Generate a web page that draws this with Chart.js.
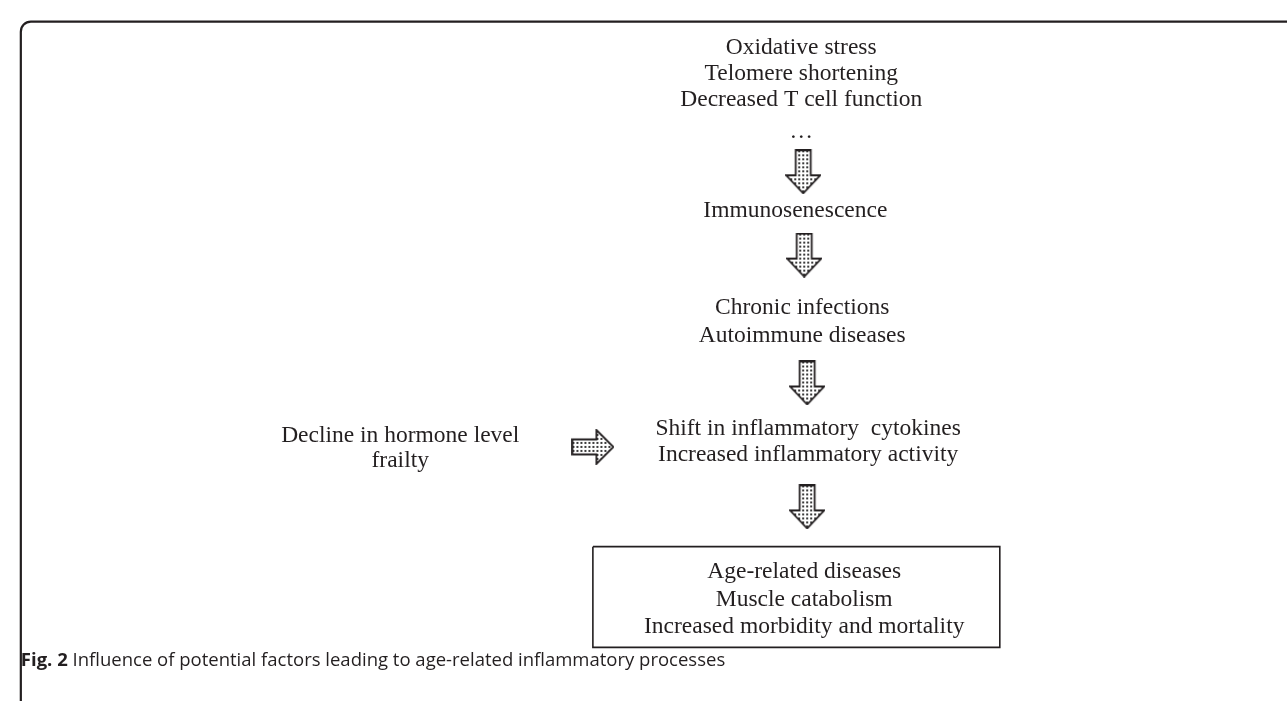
<!DOCTYPE html>
<html>
<head>
<meta charset="utf-8">
<script src="https://cdn.jsdelivr.net/npm/chart.js@4"></script>
<style>
  html, body { margin: 0; padding: 0; background: #fff; }
  #wrap { width: 1287px; height: 701px; position: relative; }
</style>
</head>
<body>
<div id="wrap"><canvas id="flowChart"></canvas></div>
<script>
// Text of each step of the flow, top to bottom
const causes = ['Oxidative stress', 'Telomere shortening', 'Decreased T cell function', '\u2026'];
const immuno = ['Immunosenescence'];
const conditions = ['Chronic infections', 'Autoimmune diseases'];
const inflammation = ['Shift in inflammatory  cytokines', 'Increased inflammatory activity'];
const sideFactors = ['Decline in hormone level', 'frailty'];
const outcomes = ['Age-related diseases', 'Muscle catabolism', 'Increased morbidity and mortality'];
const figLabel = 'Fig. 2';
const figCaption = 'Influence of potential factors leading to age-related inflammatory processes';

// Where things sit (page units, y grows downwards)
const blocks = [
    { lines: causes, x: 804, ys: [44, 71, 98, 131] },
    { lines: immuno, x: 798, ys: [213] },
    { lines: conditions, x: 805, ys: [313, 342] },
    { lines: inflammation, x: 811, ys: [438, 465] },
    { lines: sideFactors, x: 396, ys: [445, 471] },
    { lines: outcomes, x: 807, ys: [585, 614, 642] }
];
const downArrows = [{ x: 806, y: 166 }, { x: 807, y: 252 }, { x: 810, y: 384 }, { x: 810, y: 512 }];
const rightArrows = [{ x: 592, y: 450 }];
const boxCorners = [{ x: 592, y: 553 }, { x: 1006, y: 553 }, { x: 1006, y: 657 }, { x: 592, y: 657 }, { x: 592, y: 553 }];

const INK = '#231f20';

// little dotted tile used to fill the block arrows
function dotTile() {
    const t = document.createElement('canvas');
    t.width = 4; t.height = 4;
    const g = t.getContext('2d');
    g.fillStyle = '#fff';
    g.fillRect(0, 0, 4, 4);
    g.fillStyle = '#3a3a3a';
    g.fillRect(1, 1, 2, 2);
    return t;
}

function makeArrow(w, h, pts) {
    const c = document.createElement('canvas');
    c.width = w; c.height = h;
    const g = c.getContext('2d');
    g.beginPath();
    pts.forEach((p, i) => i ? g.lineTo(p[0], p[1]) : g.moveTo(p[0], p[1]));
    g.closePath();
    g.fillStyle = g.createPattern(dotTile(), 'repeat');
    g.fill();
    g.lineWidth = 1.8;
    g.lineJoin = 'miter';
    g.strokeStyle = INK;
    g.stroke();
    return c;
}

const downArrowImg = makeArrow(36, 45, [[10.5, 1], [25.5, 1], [25.5, 26], [35, 26], [18, 44], [1, 26], [10.5, 26]]);
const rightArrowImg = makeArrow(43, 36, [[1, 10.5], [25, 10.5], [25, 1], [42, 18], [25, 35], [25, 25.5], [1, 25.5]]);

// one anchor point per text line
const textPoints = [];
blocks.forEach(b => b.lines.forEach((t, i) => textPoints.push({ x: b.x, y: b.ys[i], text: t })));

const flowPlugin = {
    id: 'flowPlugin',
    beforeDatasetsDraw(chart) {
        // outer rounded frame
        const ctx = chart.ctx;
        const xs = chart.scales.x, ys = chart.scales.y;
        ctx.save();
        ctx.strokeStyle = INK;
        ctx.lineWidth = 2.2;
        ctx.beginPath();
        ctx.roundRect(xs.getPixelForValue(10), ys.getPixelForValue(11), 1320, 692, 10);
        ctx.stroke();
        ctx.restore();
    },
    afterDatasetsDraw(chart) {
        const ctx = chart.ctx;
        const xs = chart.scales.x, ys = chart.scales.y;
        const meta = chart.getDatasetMeta(0);
        ctx.save();
        ctx.fillStyle = INK;
        ctx.font = '23.5px "Liberation Serif"';
        ctx.textAlign = 'center';
        ctx.textBaseline = 'alphabetic';
        meta.data.forEach((el, i) => ctx.fillText(textPoints[i].text, el.x, el.y));

        // caption under the figure
        const cx = xs.getPixelForValue(10), cy = ys.getPixelForValue(676);
        ctx.textAlign = 'left';
        ctx.font = 'bold 18.5px "Open Sans"';
        ctx.fillText(figLabel, cx, cy);
        const w = ctx.measureText(figLabel + ' ').width;
        ctx.font = '18.5px "Open Sans"';
        ctx.fillText(figCaption, cx + w, cy);
        ctx.restore();
    }
};

new Chart(document.getElementById('flowChart'), {
    type: 'scatter',
    data: {
        datasets: [
            { label: 'text', data: textPoints, pointRadius: 0.1, pointBackgroundColor: 'rgba(0,0,0,0)', pointBorderWidth: 0 },
            { label: 'down', data: downArrows, pointStyle: downArrowImg, pointRadius: 10, clip: false },
            { label: 'right', data: rightArrows, pointStyle: rightArrowImg, pointRadius: 10, clip: false },
            { label: 'box', data: boxCorners, showLine: true, borderColor: INK, borderWidth: 1.6, pointRadius: 0, fill: false, clip: false }
        ]
    },
    options: {
        responsive: true,
        maintainAspectRatio: false,
        animation: false,
        events: [],
        layout: { padding: 0 },
        plugins: { legend: { display: false }, tooltip: { enabled: false } },
        scales: {
            x: { type: 'linear', min: 0, max: 1287, display: false },
            y: { type: 'linear', min: 0, max: 701, reverse: true, display: false }
        }
    },
    plugins: [flowPlugin]
});
</script>
</body>
</html>
